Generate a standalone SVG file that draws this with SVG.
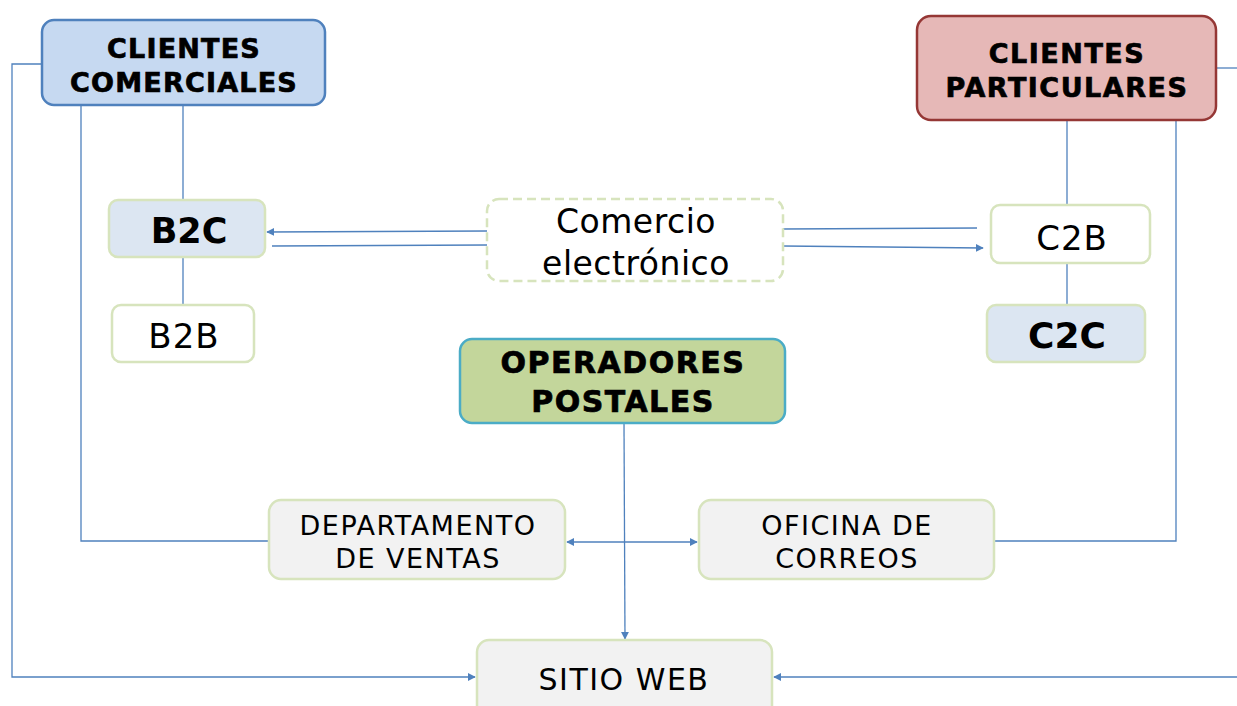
<svg xmlns="http://www.w3.org/2000/svg" width="1237" height="706" viewBox="0 0 1237 706">
<style>
.t{font-family:"DejaVu Sans",Verdana,sans-serif;fill:#000;text-anchor:middle}
.b{font-weight:bold}
.h{stroke:#000;stroke-width:0.7}
.c{fill:none;stroke:#4f81bd;stroke-width:1.3}
.g{stroke:#d7e4bd;stroke-width:2.5}
</style>
<defs>
<marker id="a" viewBox="0 0 10 10" refX="9" refY="5" markerWidth="8" markerHeight="8" markerUnits="userSpaceOnUse" orient="auto-start-reverse">
<path d="M0,0 L10,5 L0,10 z" fill="#4f81bd"/>
</marker>
</defs>
<rect width="1237" height="706" fill="#fff"/>
<g id="connectors">
<polyline class="c" points="42,64 12,64 12,677 475,677" marker-end="url(#a)"/>
<polyline class="c" points="81,105 81,541 269,541"/>
<line class="c" x1="183" y1="105" x2="183" y2="200"/>
<line class="c" x1="183" y1="257" x2="183" y2="305"/>
<line class="c" x1="487" y1="231" x2="267" y2="232" marker-end="url(#a)"/>
<line class="c" x1="487" y1="245" x2="272" y2="246"/>
<line class="c" x1="783" y1="229" x2="977" y2="228"/>
<line class="c" x1="783" y1="246" x2="983" y2="248" marker-end="url(#a)"/>
<line class="c" x1="1067" y1="120" x2="1067" y2="205"/>
<line class="c" x1="1067" y1="263" x2="1067" y2="305"/>
<line class="c" x1="1216" y1="68" x2="1237" y2="68"/>
<polyline class="c" points="1176,120 1176,541 994,541"/>
<line class="c" x1="1237" y1="677" x2="774" y2="677" marker-end="url(#a)"/>
<line class="c" x1="624" y1="423" x2="625" y2="639" marker-end="url(#a)"/>
<line class="c" x1="567" y1="542" x2="697" y2="542" marker-start="url(#a)" marker-end="url(#a)"/>
</g>
<g id="clientes-comerciales">
<rect x="42" y="20" width="283" height="85" rx="12" fill="#c6d9f1" stroke="#4f81bd" stroke-width="2.5"/>
<text class="t b h" x="184" y="58" font-size="27" letter-spacing="1.2">CLIENTES</text>
<text class="t b h" x="184" y="92" font-size="27" letter-spacing="1.2">COMERCIALES</text>
</g>
<g id="clientes-particulares">
<rect x="917" y="16" width="299" height="104" rx="14" fill="#e6b8b7" stroke="#953735" stroke-width="2.5"/>
<text class="t b h" x="1067" y="63" font-size="27" letter-spacing="1.5">CLIENTES</text>
<text class="t b h" x="1067" y="97" font-size="27" letter-spacing="1.5">PARTICULARES</text>
</g>
<g id="b2c">
<rect x="109" y="200" width="156" height="57" rx="9" fill="#dce6f2" class="g"/>
<text class="t b" x="189" y="243" font-size="35">B2C</text>
</g>
<g id="b2b">
<rect x="112" y="305" width="142" height="57" rx="9" fill="#fff" class="g"/>
<text class="t" x="184" y="348" font-size="34" letter-spacing="1">B2B</text>
</g>
<g id="comercio">
<rect x="487" y="199" width="296" height="82" rx="12" fill="#fff" stroke="#d7e4bd" stroke-width="2.5" stroke-dasharray="9,5"/>
<text class="t" x="636" y="233" font-size="33" letter-spacing="0.5">Comercio</text>
<text class="t" x="636" y="275" font-size="33" letter-spacing="0.5">electrónico</text>
</g>
<g id="c2b">
<rect x="991" y="205" width="159" height="58" rx="9" fill="#fff" class="g"/>
<text class="t" x="1072" y="250" font-size="34" letter-spacing="1">C2B</text>
</g>
<g id="c2c">
<rect x="987" y="305" width="158" height="57" rx="9" fill="#dce6f2" class="g"/>
<text class="t b" x="1067" y="348" font-size="36">C2C</text>
</g>
<g id="operadores">
<rect x="460" y="339" width="325" height="84" rx="12" fill="#c3d69b" stroke="#4bacc6" stroke-width="2.5"/>
<text class="t b h" x="623" y="373" font-size="30" letter-spacing="1.5">OPERADORES</text>
<text class="t b h" x="623" y="412" font-size="30" letter-spacing="1.5">POSTALES</text>
</g>
<g id="departamento">
<rect x="269" y="500" width="296" height="79" rx="12" fill="#f2f2f2" class="g"/>
<text class="t" x="418" y="535" font-size="27" letter-spacing="1.5">DEPARTAMENTO</text>
<text class="t" x="418" y="568" font-size="27" letter-spacing="1.5">DE VENTAS</text>
</g>
<g id="oficina">
<rect x="699" y="500" width="295" height="79" rx="12" fill="#f2f2f2" class="g"/>
<text class="t" x="847" y="535" font-size="27" letter-spacing="1.5">OFICINA DE</text>
<text class="t" x="847" y="568" font-size="27" letter-spacing="1.5">CORREOS</text>
</g>
<g id="sitio-web">
<rect x="477" y="640" width="295" height="80" rx="12" fill="#f2f2f2" class="g"/>
<text class="t" x="624" y="690" font-size="30" letter-spacing="1.5">SITIO WEB</text>
</g>
</svg>
